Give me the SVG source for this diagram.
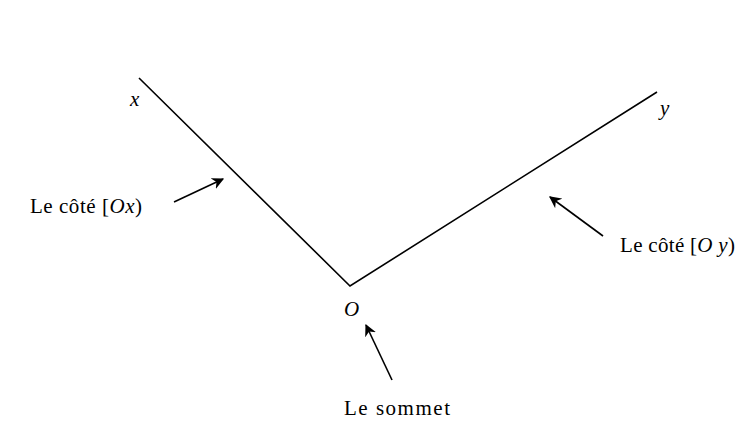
<svg xmlns="http://www.w3.org/2000/svg" width="740" height="433" viewBox="0 0 740 433">
<style>
text{font-family:"Liberation Serif","DejaVu Serif",serif;font-size:21px;fill:#000}
.i{font-style:italic}
.side{stroke:#000;stroke-width:1.6;fill:none}
.arr{stroke:#000;stroke-width:1.6;fill:none;marker-end:url(#ah)}
</style>
<defs>
<marker id="ah" viewBox="0 0 10 10" refX="9" refY="5" markerWidth="12" markerHeight="12" markerUnits="userSpaceOnUse" orient="auto">
<path d="M0,0 L10,5 L0,10 L3,5 Z" fill="#000"/>
</marker>
</defs>
<rect width="740" height="433" fill="#fff"/>
<g id="angle">
<polyline class="side" points="139,78 350,286 657,92"/>
</g>
<g id="label-x"><text class="i" x="130" y="106">x</text></g>
<g id="label-y"><text class="i" x="660" y="115">y</text></g>
<g id="label-O"><text class="i" x="344" y="316">O</text></g>
<g id="label-Ox"><text x="30" y="213" textLength="112" lengthAdjust="spacing">Le côté [<tspan class="i">Ox</tspan>)</text></g>
<g id="label-Oy"><text x="620" y="252" textLength="115" lengthAdjust="spacing">Le côté [<tspan class="i">O y</tspan>)</text></g>
<g id="label-sommet"><text x="344" y="415" textLength="106" lengthAdjust="spacing">Le sommet</text></g>
<g id="connectors">
<line class="arr" x1="174" y1="202" x2="223" y2="179"/>
<line class="arr" x1="603" y1="236" x2="550" y2="197"/>
<line class="arr" x1="392" y1="380" x2="366" y2="325"/>
</g>
</svg>
